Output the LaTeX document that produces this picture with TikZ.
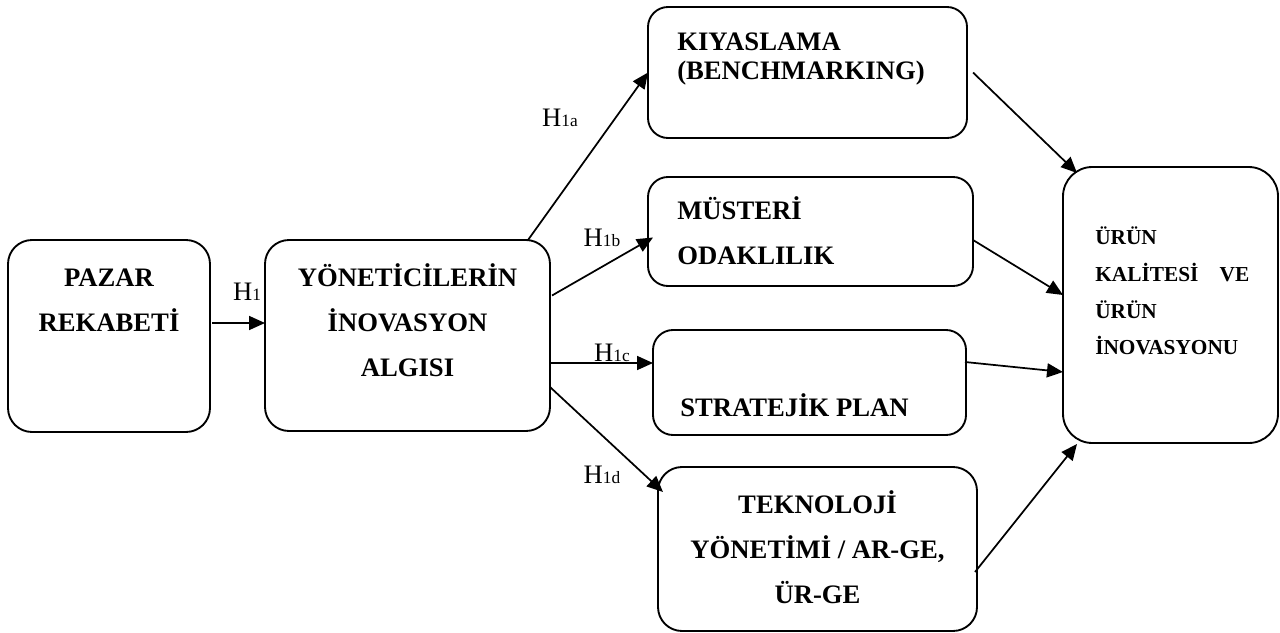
\documentclass[tikz,border=0pt]{standalone}
\usepackage{fontspec}
\setmainfont{Liberation Serif}
\usetikzlibrary{calc,arrows.meta}
\tikzset{
  box/.style    = {draw=black, line width=1.4pt, rounded corners=18pt, inner sep=0pt, outer sep=0pt},
  boxs/.style   = {box, rounded corners=15pt},
  txt/.style    = {font=\fontsize{20}{33.75}\selectfont\bfseries, inner sep=0pt},
  txtsingle/.style = {font=\fontsize{20}{21.75}\selectfont\bfseries, inner sep=0pt},
  txtsmall/.style  = {font=\fontsize{16}{27.5}\selectfont\bfseries, inner sep=0pt},
  hyp/.style    = {font=\fontsize{20}{22}\selectfont, inner sep=0pt},
  link/.style   = {-{Triangle[length=12pt,width=10.5pt]}, line width=1.3pt},
}
\newcommand{\hyplabel}[1]{H{\fontsize{13}{14}\selectfont #1}}

\begin{document}
\begin{tikzpicture}[x=0.75pt,y=-0.75pt]
  \useasboundingbox (0,0) rectangle (1280,632);

  % boxes
  \node[box, minimum width=151.5pt, minimum height=144pt] (pazar) at (109,336) {};
  \node[box, minimum width=213.75pt, minimum height=143.25pt] (yon) at (407.5,335.5) {};
  \node[boxs, minimum width=239.25pt, minimum height=98.25pt] (kiyas) at (807.5,72.5) {};
  \node[boxs, minimum width=243.75pt, minimum height=81.75pt] (musteri) at (810.5,231.5) {};
  \node[boxs, minimum width=234.75pt, minimum height=78.75pt] (strat) at (809.5,382.5) {};
  \node[box, minimum width=239.25pt, minimum height=123pt] (tekno) at (817.5,549) {};
  \node[box, rounded corners=22pt, minimum width=161.25pt, minimum height=207pt] (urun) at (1170.5,305) {};

  % box texts
  \node[txt, align=center] (pazartxt) at (109,300.5) {PAZAR\\REKABETİ};
  \node[txt, align=center] (yontxt) at (407.5,320) {YÖNETİCİLERİN\\İNOVASYON\\ALGISI};
  \node[txtsingle, align=left, anchor=west] (kiyastxt) at (677,59) {KIYASLAMA\\(BENCHMARKING)};
  \node[txt, align=left, anchor=west] (mustxt) at (677,231) {MÜSTERİ\\ODAKLILIK};
  \node[txt, anchor=base west] (strattxt) at (680,416.8) {STRATEJİK PLAN};
  \node[txt, align=center] (teknotxt) at (817.5,547) {TEKNOLOJİ\\YÖNETİMİ / AR-GE,\\ÜR-GE};
  \node[txtsmall, align=left, text width=115.5pt, anchor=west] (uruntxt) at (1095,291)
    {ÜRÜN\\KALİTESİ \hfill VE\\ÜRÜN\\İNOVASYONU};

  % hypotheses
  \node[hyp] (h1) at (247,292) {\hyplabel{1}};
  \node[hyp] (h1a) at (560,118) {\hyplabel{1a}};
  \node[hyp] (h1b) at (602,238) {\hyplabel{1b}};
  \node[hyp] (h1c) at (612,353) {\hyplabel{1c}};
  \node[hyp] (h1d) at (602,475) {\hyplabel{1d}};

  % arrows
  \draw[link] ($(pazar.east)+(2,-13)$) -- ($(yon.west)+(0,-12.5)$);
  \draw[link] ($(yon.north east)+(-22,0)$) -- (kiyas.west);
  \draw[link] ($(yon.east)+(2,-40)$) -- ($(musteri.west)+(5,6)$);
  \draw[link] ($(yon.east)+(0,27.5)$) -- ($(strat.west)+(0,-19.5)$);
  \draw[link] ($(yon.east)+(0,51.5)$) -- ($(tekno.north west)+(5,25)$);
  \draw[link] ($(kiyas.east)+(6,0)$) -- ($(urun.north west)+(14,6)$);
  \draw[link] ($(musteri.east)+(0,8.5)$) -- ($(urun.west)+(0,-10)$);
  \draw[link] ($(strat.east)+(-1,-20.5)$) -- ($(urun.west)+(0,67)$);
  \draw[link] ($(tekno.east)+(-2,23)$) -- ($(urun.south west)+(14,1)$);
\end{tikzpicture}
\end{document}
